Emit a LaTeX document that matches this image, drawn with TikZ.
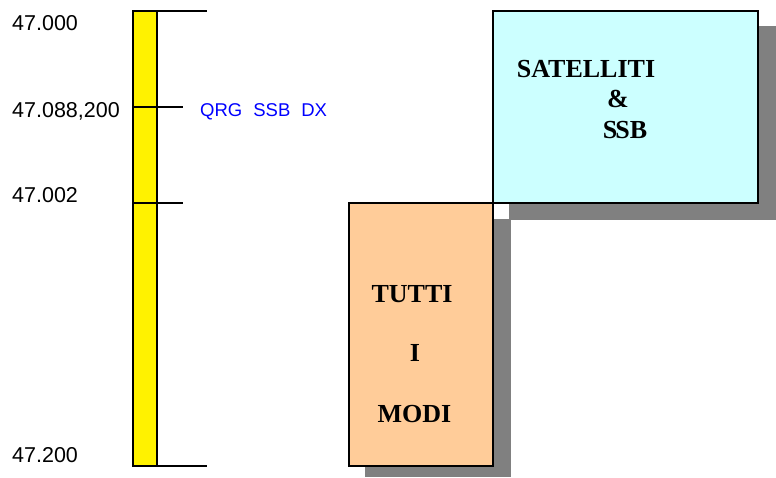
\documentclass[tikz,border=0pt]{standalone}
\usepackage{fontspec}
\setmainfont{Liberation Serif}
\setsansfont{Liberation Sans}
\definecolor{cyanbox}{HTML}{CCFFFF}
\definecolor{orangebox}{HTML}{FFCC99}
\definecolor{shadowgray}{HTML}{808080}
\definecolor{labelblue}{HTML}{0000FF}
\begin{document}
\begin{tikzpicture}[x=1pt,y=-1pt,
  freq/.style={anchor=base west,inner sep=0pt,font=\sffamily\fontsize{21.5}{21.5}\selectfont},
  bandtext/.style={anchor=base,inner sep=0pt,font=\bfseries\fontsize{26}{26}\selectfont},
  box/.style={draw=black,line width=2pt,inner sep=0pt},
  tick/.style={line width=2.2pt,black},
  shadow/.style={fill=shadowgray,draw=none}]
\useasboundingbox (0,0) rectangle (776,477);
% shadows
\fill[shadowgray] (509,26) rectangle (776,220);
\fill[shadowgray] (365,219) rectangle (511,477);
% boxes
\node[box,fill=cyanbox,minimum width=265pt,minimum height=192pt] (sat) at (625.5,107) {};
\node[box,fill=orangebox,minimum width=144pt,minimum height=263pt] (tutti) at (421,334.5) {};
% box texts
\node[bandtext] (t1) at (586,77) {SATELLITI};
\node[bandtext] (t2) at (618,107) {\&};
\node[bandtext] (t3) at (625,138) {S\kern-2ptSB};
\node[bandtext] (u1) at (412,302) {TUTTI};
\node[bandtext] (u2) at (415,361) {I};
\node[bandtext] (u3) at (414.5,422) {MODI};
% scale bar
\draw[tick,fill=yellow] (133,11) rectangle (157,466);
\coordinate (a0) at (133,11);   \coordinate (a1) at (207,11);
\coordinate (b0) at (133,107);  \coordinate (b1) at (183,107);
\coordinate (c0) at (133,203);  \coordinate (c1) at (183,203);
\coordinate (d0) at (133,466);  \coordinate (d1) at (207,466);
\draw[tick] (a0) -- (a1);
\draw[tick] (b0) -- (b1);
\draw[tick] (c0) -- (c1);
\draw[tick] (d0) -- (d1);
% frequency labels
\node[freq] (f1) at (12,30) {47.000};
\node[freq] (f2) at (12,117) {47.088,200};
\node[freq] (f3) at (12,202) {47.002};
\node[freq] (f4) at (12,462) {47.200};
\node[freq,text=labelblue,font=\sffamily\fontsize{18.5}{18.5}\selectfont] (q) at (200,116) {QRG\hspace{11pt}SSB\hspace{11pt}DX};
\end{tikzpicture}
\end{document}
